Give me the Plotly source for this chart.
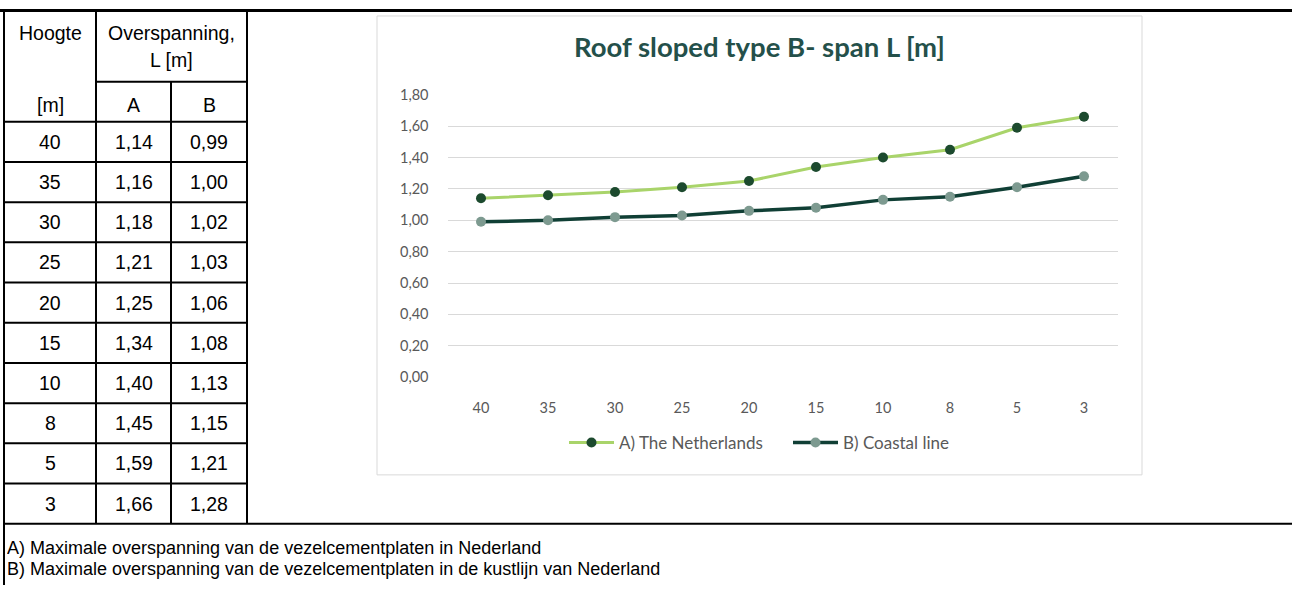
import plotly.graph_objects as go

# ---------------- data ----------------
heights = ["40", "35", "30", "25", "20", "15", "10", "8", "5", "3"]
span_a = [1.14, 1.16, 1.18, 1.21, 1.25, 1.34, 1.40, 1.45, 1.59, 1.66]
span_b = [0.99, 1.00, 1.02, 1.03, 1.06, 1.08, 1.13, 1.15, 1.21, 1.28]
series_names = ["A) The Netherlands", "B) Coastal line"]
chart_title = "Roof sloped type B- span L [m]"
y_ticks = [0, 0.2, 0.4, 0.6, 0.8, 1.0, 1.2, 1.4, 1.6, 1.8]
table_head = ["Hoogte", "Overspanning,", "L [m]", "[m]", "A", "B"]
footnotes = [
    "A) Maximale overspanning van de vezelcementplaten in Nederland",
    "B) Maximale overspanning van de vezelcementplaten in de kustlijn van Nederland",
]

W, H = 1292, 593
# vertical placement helper (page shows the figure with a small top offset)
Y_OFF, Y_SCALE = 8.0, 0.9737


def px(x):
    return x / W


def py(y):
    d = (y - Y_OFF) / Y_SCALE
    return min(1.0, max(0.0, 1 - d / H))


def fmt(v):
    return f"{v:.2f}".replace(".", ",")


fig = go.Figure()

fig.add_trace(go.Scatter(
    x=heights, y=span_a, mode="lines+markers", name=series_names[0],
    line=dict(color="#a9d46a", width=3),
    marker=dict(color="#1c4a2e", size=10),
))
fig.add_trace(go.Scatter(
    x=heights, y=span_b, mode="lines+markers", name=series_names[1],
    line=dict(color="#103f35", width=3.5),
    marker=dict(color="#7d9a90", size=10),
))

shapes = []
annotations = []

LINE = dict(color="black", width=2)
# outer frame
shapes.append(dict(type="line", xref="paper", yref="paper", x0=0, x1=1, y0=py(9.5), y1=py(9.5),
                   line=dict(color="black", width=3)))
shapes.append(dict(type="line", xref="paper", yref="paper", x0=px(4), x1=px(4), y0=py(9), y1=0,
                   line=LINE))
shapes.append(dict(type="line", xref="paper", yref="paper", x0=px(4), x1=1, y0=py(524), y1=py(524),
                   line=LINE))
# table verticals
shapes.append(dict(type="line", xref="paper", yref="paper", x0=px(247), x1=px(247), y0=py(9), y1=py(524), line=LINE))
shapes.append(dict(type="line", xref="paper", yref="paper", x0=px(96), x1=px(96), y0=py(9), y1=py(524), line=LINE))
shapes.append(dict(type="line", xref="paper", yref="paper", x0=px(171), x1=px(171), y0=py(81), y1=py(524), line=LINE))
shapes.append(dict(type="line", xref="paper", yref="paper", x0=px(96), x1=px(247), y0=py(81), y1=py(81), line=LINE))

row0 = 121
rh = (524 - 121) / len(heights)
for k in range(len(heights)):
    yl = row0 + k * rh
    shapes.append(dict(type="line", xref="paper", yref="paper", x0=px(4), x1=px(247), y0=py(yl), y1=py(yl), line=LINE))

TF = dict(family="Liberation Sans, Arial", size=19.5, color="black")
col_c = [50, 133.5, 209]


def txt(x, y, s, **kw):
    d = dict(xref="paper", yref="paper", x=px(x), y=py(y), text=s, showarrow=False,
             font=TF, xanchor="center", yanchor="middle")
    d.update(kw)
    annotations.append(d)


txt(col_c[0], 32, table_head[0])
txt(171.5, 32, table_head[1])
txt(171.5, 59, table_head[2])
txt(col_c[0], 104, table_head[3])
txt(col_c[1], 104, table_head[4])
txt(col_c[2], 104, table_head[5])
for k, (h, a, b) in enumerate(zip(heights, span_a, span_b)):
    yc = row0 + (k + 0.5) * rh
    txt(col_c[0], yc, h)
    txt(col_c[1], yc, fmt(a))
    txt(col_c[2], yc, fmt(b))

FN = dict(family="Liberation Sans, Arial", size=18, color="black")
txt(6, 549, footnotes[0], xanchor="left", font=FN, height=20.5, borderpad=0)
txt(6, 570, footnotes[1], xanchor="left", font=FN, height=20.5, borderpad=0)

# chart box
shapes.append(dict(type="rect", xref="paper", yref="paper", x0=px(377), x1=px(1142), y0=py(475), y1=py(15),
                   line=dict(color="#d9d9d9", width=1), fillcolor="rgba(0,0,0,0)", layer="below"))

# chart title
annotations.append(dict(xref="paper", yref="paper", x=px(759), y=py(46), text="<b>" + chart_title + "</b>",
                        showarrow=False, xanchor="center", yanchor="middle",
                        font=dict(family="Lato", size=27.5, color="#24504a")))

fig.update_layout(
    width=W, height=H,
    margin=dict(l=0, r=0, t=0, b=0),
    paper_bgcolor="white", plot_bgcolor="white",
    separators=",.",
    shapes=shapes, annotations=annotations,
    showlegend=True,
    legend=dict(orientation="h", x=px(564), xanchor="left", y=py(443), yanchor="middle",
                font=dict(family="Lato", size=17, color="#595959"), bgcolor="rgba(0,0,0,0)",
                itemwidth=45, tracegroupgap=0, entrywidth=164, entrywidthmode="pixels"),
    xaxis=dict(domain=[px(447.5), px(1117.5)], type="category", range=[-0.5, 9.5],
               showgrid=False, zeroline=False, showline=False, ticks="",
               tickfont=dict(family="Lato", size=14.5, color="#595959"), ticklabelstandoff=20),
    yaxis=dict(domain=[py(377), py(94)], range=[0, 1.8], tickvals=y_ticks, tickformat=".2f",
               showgrid=True, gridcolor="#d9d9d9", gridwidth=1, zeroline=False, showline=False,
               ticks="", tickfont=dict(family="Lato", size=14.5, color="#595959"), ticklabelstandoff=18),
)

fig.write_html("out.html", config={"displayModeBar": False},
               post_script="document.body.style.margin='0px';document.body.style.overflow='hidden';")
